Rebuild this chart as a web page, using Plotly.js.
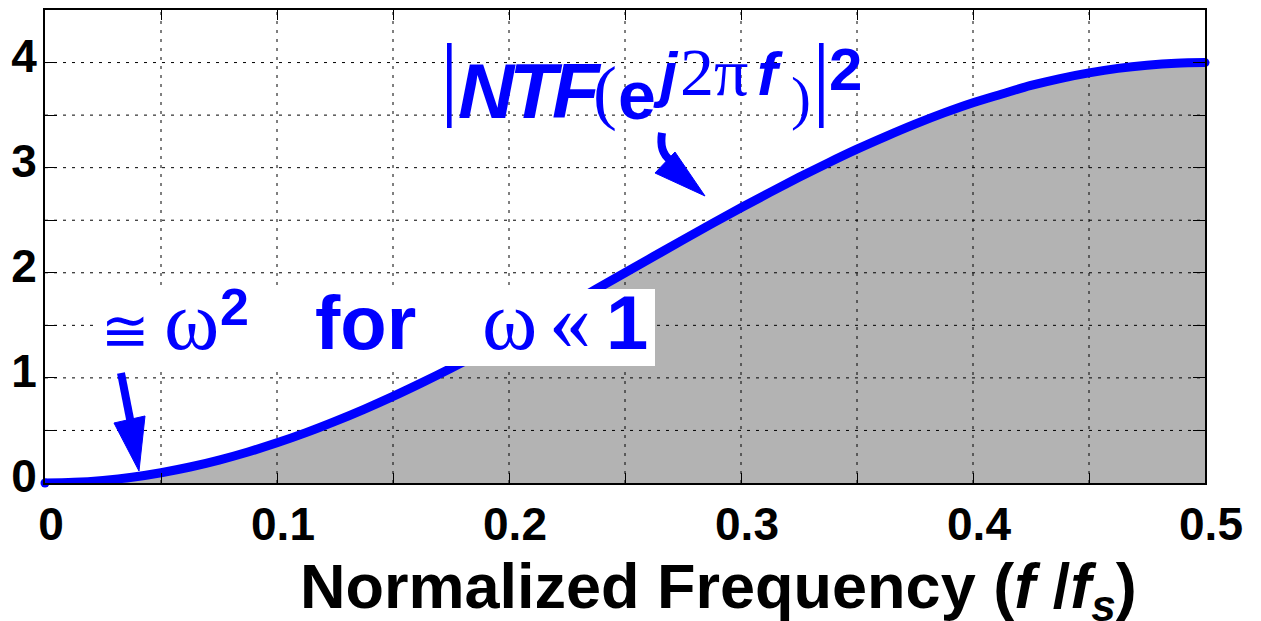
<!DOCTYPE html>
<html>
<head>
<meta charset="utf-8">
<script src="https://cdn.plot.ly/plotly-3.0.1.min.js"></script>
<style>
  html, body { margin: 0; padding: 0; background: #ffffff; }
  #chart { width: 1261px; height: 621px; }
</style>
</head>
<body>
<div id="chart"></div>
<script>
// ---- data ----
const freq = [0, 0.0125, 0.025, 0.0375, 0.05, 0.0625, 0.075, 0.0875, 0.1, 0.1125,
              0.125, 0.1375, 0.15, 0.1625, 0.175, 0.1875, 0.2, 0.2125, 0.225, 0.2375,
              0.25, 0.2625, 0.275, 0.2875, 0.3, 0.3125, 0.325, 0.3375, 0.35, 0.3625,
              0.375, 0.3875, 0.4, 0.4125, 0.425, 0.4375, 0.45, 0.4625, 0.475, 0.4875, 0.5];
const ntfMag2 = [0, 0.006, 0.025, 0.055, 0.098, 0.152, 0.218, 0.295, 0.382, 0.479,
                 0.586, 0.701, 0.824, 0.955, 1.092, 1.235, 1.382, 1.534, 1.687, 1.843,
                 2.000, 2.157, 2.313, 2.467, 2.618, 2.765, 2.908, 3.045, 3.176, 3.298,
                 3.414, 3.521, 3.618, 3.701, 3.782, 3.848, 3.902, 3.945, 3.975, 3.994, 4.000];

const xTickVals = [0, 0.05, 0.1, 0.15, 0.2, 0.25, 0.3, 0.35, 0.4, 0.45, 0.5];
const xTickText = ['0', '', '0.1', '', '0.2', '', '0.3', '', '0.4', '', '0.5'];
const yTickVals = [0, 0.5, 1, 1.5, 2, 2.5, 3, 3.5, 4, 4.5];
const yTickText = ['0', '', '1', '', '2', '', '3', '', '4', ''];
const xRange = [0, 0.5];
const yRange = [0, 4.5];

const xTitle = 'Normalized Frequency (<i>f</i> /<i>f</i><sub><i>s</i></sub>)';

// ---- layout helpers (pixel -> paper) ----
const PL = 45, PR = 1205, PT = 10, PB = 483;
const px = x => (x - PL) / (PR - PL);
const py = y => (PB - y) / (PB - PT);
const BLUE = '#0000ff';
const SANS = 'Liberation Sans', SERIF = 'Liberation Serif';
const DESC = {'Liberation Sans': 0.212, 'Liberation Serif': 0.216, 'DejaVu Sans': 0.236};

function lab(text, xLeft, baseline, size, family, color) {
  return {
    text: text, xref: 'paper', yref: 'paper',
    x: px(xLeft), y: py(baseline + DESC[family] * size),
    xanchor: 'left', yanchor: 'bottom', showarrow: false,
    borderpad: 0, borderwidth: 0,
    font: {family: family, size: size, color: color || BLUE}
  };
}

// ---- gridlines (drawn above the fill, below the curve) ----
const gx = [], gy = [];
xTickVals.slice(1, -1).forEach(v => { gx.push(v, v, null); gy.push(yRange[0], yRange[1], null); });
yTickVals.slice(1, -1).forEach(v => { gx.push(xRange[0], xRange[1], null); gy.push(v, v, null); });

const n = freq.length;
const traces = [
  { x: freq, y: ntfMag2, type: 'scatter', mode: 'lines', fill: 'tozeroy',
    fillcolor: '#b3b3b3', line: {width: 0, color: 'rgba(0,0,0,0)', shape: 'spline', simplify: false},
    hoverinfo: 'skip', showlegend: false },
  { x: gx, y: gy, type: 'scatter', mode: 'lines',
    line: {color: '#000000', width: 1, dash: '3px,6px'},
    hoverinfo: 'skip', showlegend: false },
  { x: freq, y: ntfMag2, type: 'scatter', mode: 'lines',
    line: {color: BLUE, width: 9, shape: 'spline', smoothing: 1, simplify: false},
    showlegend: false },
  { x: [freq[0], freq[n - 1]], y: [ntfMag2[0], ntfMag2[n - 1]], type: 'scatter', mode: 'markers',
    marker: {color: BLUE, size: 9, line: {width: 0}},
    cliponaxis: false, showlegend: false }
];

const tickFont = {family: SANS, size: 46, color: '#000000', weight: 'bold'};

const annotations = [
  // ≅ ω² for ω « 1
  lab('≅', 101, 351, 58, 'DejaVu Sans'),
  lab('ω', 164, 349, 84, SERIF),
  lab('<b>2</b>', 220, 325, 52, SANS),
  lab('<b>for</b>', 315, 349, 76, SANS),
  lab('ω', 482, 349, 84, SERIF),
  lab('«', 549, 349, 84, SERIF),
  lab('<b>1</b>', 606, 349, 76, SANS),
  // |NTF(e^{j2πf})|²
  lab('|', 440, 108, 93, SERIF),
  lab('<b><i><span style="letter-spacing:-5px">NTF</span></i></b>', 458, 118, 78, SANS),
  lab('(', 593, 116, 72, SERIF),
  lab('<b>e</b>', 618, 119, 68, SANS),
  lab('<b><i>j</i></b>', 653, 95, 62, SANS),
  lab('2π', 680, 95, 68, SERIF),
  lab('<b><i>f</i></b>', 757, 95, 62, SANS),
  lab(')', 791, 118, 60, SERIF),
  lab('|', 812, 108, 93, SERIF),
  lab('<b>2</b>', 829, 90, 60, SANS),
  // x-axis title
  { text: '<b>' + xTitle + '</b>', xref: 'paper', yref: 'paper',
    x: px(300), y: py(608 - 0.905 * 63), xanchor: 'left', yanchor: 'top',
    showarrow: false, borderpad: 0, borderwidth: 0,
    font: {family: SANS, size: 63, color: '#000000'} }
];

const P = (x, y) => px(x).toFixed(5) + ',' + py(y).toFixed(5);
const shapes = [
  // white label box
  { type: 'rect', xref: 'paper', yref: 'paper', layer: 'above',
    x0: px(99), x1: px(655), y0: py(366), y1: py(289),
    fillcolor: '#ffffff', line: {width: 0} },
  // arrow 1 (to the low-frequency part)
  { type: 'line', xref: 'paper', yref: 'paper', layer: 'above',
    x0: px(121), y0: py(373), x1: px(131), y1: py(424),
    line: {color: BLUE, width: 8} },
  { type: 'path', xref: 'paper', yref: 'paper', layer: 'above',
    path: 'M' + P(114, 423) + ' L' + P(145, 416) + ' L' + P(139, 471) + ' Z',
    fillcolor: BLUE, line: {color: BLUE, width: 1} },
  // arrow 2 (curved, to the curve)
  { type: 'path', xref: 'paper', yref: 'paper', layer: 'above',
    path: 'M' + P(662, 133) + ' Q' + P(659, 152) + ' ' + P(670, 160),
    line: {color: BLUE, width: 8} },
  { type: 'path', xref: 'paper', yref: 'paper', layer: 'above',
    path: 'M' + P(655, 173) + ' L' + P(675, 152) + ' L' + P(705, 196) + ' Z',
    fillcolor: BLUE, line: {color: BLUE, width: 1} }
];

const layout = {
  width: 1261, height: 621,
  margin: {l: PL, r: 1261 - PR, t: PT, b: 621 - PB},
  paper_bgcolor: '#ffffff', plot_bgcolor: '#ffffff',
  showlegend: false,
  xaxis: {
    range: xRange, tickmode: 'array', tickvals: xTickVals, ticktext: xTickText,
    ticks: 'inside', ticklen: 10, tickwidth: 1, tickcolor: '#000000',
    showgrid: false, zeroline: false, showline: true, linewidth: 2, linecolor: '#000000',
    mirror: 'ticks', tickfont: tickFont, ticklabelshift: 6
  },
  yaxis: {
    range: yRange, tickmode: 'array', tickvals: yTickVals, ticktext: yTickText,
    ticks: 'inside', ticklen: 12, tickwidth: 1, tickcolor: '#000000',
    showgrid: false, zeroline: false, showline: true, linewidth: 2, linecolor: '#000000',
    mirror: 'ticks', tickfont: tickFont, ticklabelshift: -7, ticklabelstandoff: -3
  },
  annotations: annotations,
  shapes: shapes
};

Plotly.newPlot('chart', traces, layout, {displayModeBar: false, staticPlot: true});
</script>
</body>
</html>
